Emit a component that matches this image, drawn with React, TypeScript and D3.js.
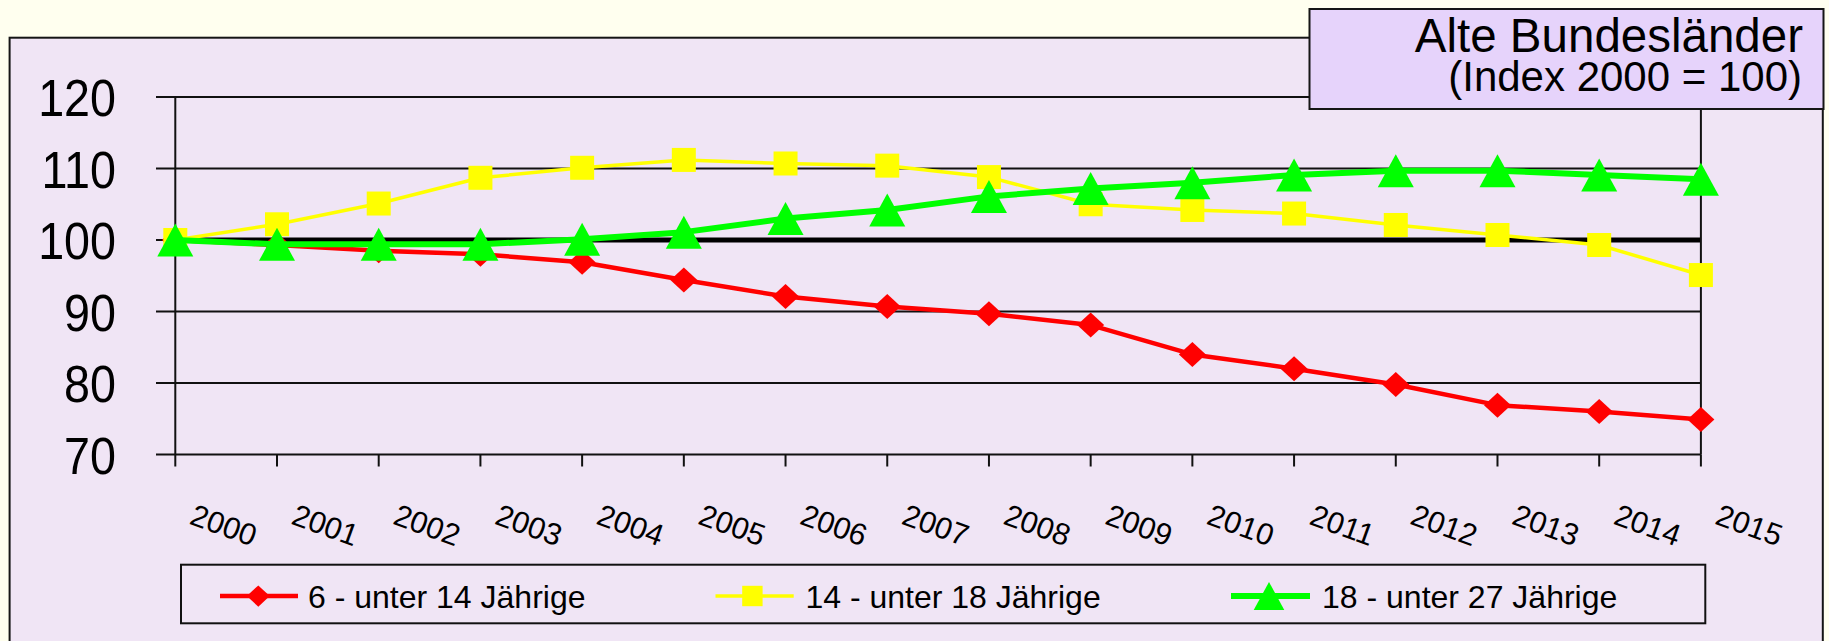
import React from "react";
import * as d3 from "d3";

// Index 2000 = 100, Alte Bundesländer
const years = [2000, 2001, 2002, 2003, 2004, 2005, 2006, 2007, 2008, 2009, 2010, 2011, 2012, 2013, 2014, 2015];
const age6to14 = [100, 99.3, 98.5, 98.0, 96.9, 94.4, 92.1, 90.7, 89.7, 88.1, 84.0, 82.0, 79.8, 76.9, 76.0, 74.9];
const age14to18 = [100, 102.2, 105.1, 108.7, 110.1, 111.2, 110.7, 110.4, 108.8, 105.0, 104.2, 103.7, 102.1, 100.7, 99.3, 95.1];
const age18to27 = [100, 99.4, 99.4, 99.4, 100.1, 101.1, 103.0, 104.2, 106.1, 107.2, 108.0, 109.1, 109.7, 109.7, 109.1, 108.5];
const yTicks = [70, 80, 90, 100, 110, 120];
const seriesNames = ["6 - unter 14 Jährige", "14 - unter 18 Jährige", "18 - unter 27 Jährige"];
const titleLines = ["Alte Bundesländer", "(Index 2000 = 100)"];

const W = 1829;
const H = 641;
const FONT = "'Liberation Sans', Arial, sans-serif";
const plot = { left: 175.3, right: 1700.9, top: 97, bottom: 454.5 };

const x = d3.scaleLinear().domain([2000, 2015]).range([plot.left, plot.right]);
const y = d3.scaleLinear().domain([70, 120]).range([plot.bottom, plot.top]);

const series = [
  { name: seriesNames[0], values: age6to14, color: "#ff0000", width: 4.5, marker: "diamond" },
  { name: seriesNames[1], values: age14to18, color: "#ffff00", width: 3.5, marker: "square" },
  { name: seriesNames[2], values: age18to27, color: "#00ff00", width: 6, marker: "triangle" },
];

// legend slots (line start/end, marker centre, text start)
const legendSlots = [
  { x1: 220, x2: 298, mx: 258.3, tx: 308 },
  { x1: 715.5, x2: 793.7, mx: 752.4, tx: 805.4 },
  { x1: 1231, x2: 1310, mx: 1269, tx: 1322 },
];

const Marker = ({ kind, cx, cy, color, scale = 1 }) => {
  if (kind === "diamond") {
    const hw = 13.5 * scale, hh = 12.5 * scale;
    return <path d={`M${cx},${cy - hh}L${cx + hw},${cy}L${cx},${cy + hh}L${cx - hw},${cy}Z`} fill={color} />;
  }
  if (kind === "square") {
    const s = 24 * scale;
    return <rect x={cx - s / 2} y={cy - s / 2} width={s} height={s} fill={color} />;
  }
  const w = 36 * scale, h = 33 * scale;
  return <path d={`M${cx},${cy - h / 2}L${cx + w / 2},${cy + h / 2}L${cx - w / 2},${cy + h / 2}Z`} fill={color} />;
};

export default function App() {
  const line = d3
    .line<number>()
    .x((d, i) => x(years[i]))
    .y((d) => y(d));

  return (
    <svg
      width={W}
      height={H}
      style={{ position: "absolute", left: 0, top: 0, display: "block" }}
      fontFamily={FONT}
    >
      <rect x={0} y={0} width={W} height={H} fill="#ffffef" />
      {/* chart frame */}
      <rect x={9.6} y={37.7} width={1813.2} height={660} fill="#f0e5f5" stroke="#151515" strokeWidth={2} />

      {/* gridlines + y ticks */}
      {yTicks.map((t) => (
        <g key={t}>
          <line x1={156} x2={plot.right} y1={y(t)} y2={y(t)} stroke="#111" strokeWidth={2} />
          <text
            transform={`translate(116,${y(t) + 19}) scale(0.915,1)`}
            fontSize={51}
            textAnchor="end"
            fill="#000"
          >
            {t}
          </text>
        </g>
      ))}
      {/* 100 reference line */}
      <line x1={plot.left} x2={plot.right} y1={y(100)} y2={y(100)} stroke="#000" strokeWidth={5} />

      {/* axes */}
      <line x1={plot.left} x2={plot.left} y1={plot.top} y2={plot.bottom} stroke="#111" strokeWidth={2} />
      <line x1={plot.right} x2={plot.right} y1={plot.top} y2={plot.bottom} stroke="#111" strokeWidth={2} />
      {years.map((yr) => (
        <g key={yr}>
          <line x1={x(yr)} x2={x(yr)} y1={plot.bottom} y2={plot.bottom + 12} stroke="#111" strokeWidth={2} />
          <text
            transform={`translate(${x(yr) + 48.5},525) rotate(20)`}
            fontSize={30.5}
            textAnchor="middle"
            dy="0.35em"
            fill="#000"
          >
            {yr}
          </text>
        </g>
      ))}

      {/* series */}
      {series.map((s) => (
        <g key={s.name}>
          <path d={line(s.values) || ""} fill="none" stroke={s.color} strokeWidth={s.width} strokeLinejoin="round" />
          {s.values.map((v, i) => (
            <Marker key={i} kind={s.marker} cx={x(years[i])} cy={y(v)} color={s.color} />
          ))}
        </g>
      ))}

      {/* title box */}
      <rect x={1309.5} y={9} width={514} height={100} fill="#e6d3fb" stroke="#151515" strokeWidth={2} />
      <text x={1803} y={51.7} fontSize={47.5} textAnchor="end" fill="#000">
        {titleLines[0]}
      </text>
      <text x={1802} y={91} fontSize={42} textAnchor="end" fill="#000">
        {titleLines[1]}
      </text>

      {/* legend */}
      <rect x={181} y={564.7} width={1524.3} height={58.6} fill="none" stroke="#111" strokeWidth={2} />
      {series.map((s, i) => {
        const slot = legendSlots[i];
        return (
          <g key={s.name}>
            <line x1={slot.x1} x2={slot.x2} y1={596} y2={596} stroke={s.color} strokeWidth={s.width} />
            <Marker kind={s.marker} cx={slot.mx} cy={596} color={s.color} scale={0.85} />
            <text x={slot.tx} y={608} fontSize={32} fill="#000">
              {s.name}
            </text>
          </g>
        );
      })}
    </svg>
  );
}
